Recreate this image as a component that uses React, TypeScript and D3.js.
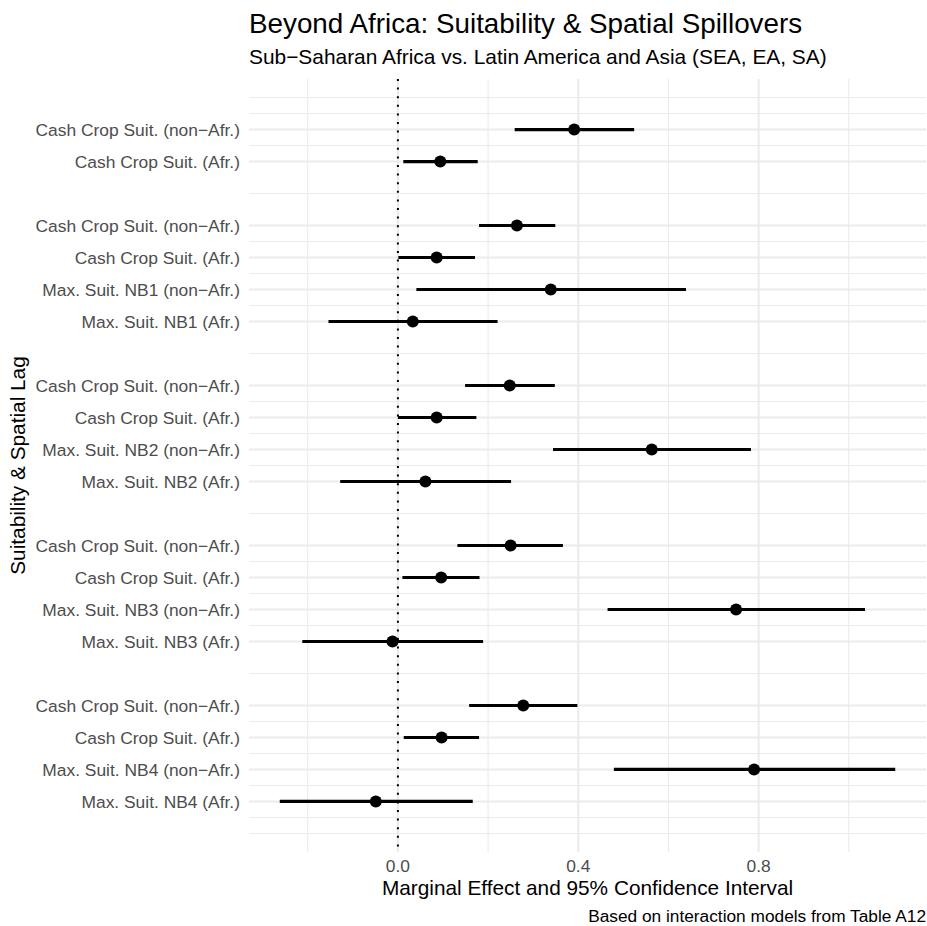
import React from "react";
import * as d3 from "d3";

const labels = [
  "Cash Crop Suit. (non\u2212Afr.)",
  "Cash Crop Suit. (Afr.)",
  "Cash Crop Suit. (non\u2212Afr.)",
  "Cash Crop Suit. (Afr.)",
  "Max. Suit. NB1 (non\u2212Afr.)",
  "Max. Suit. NB1 (Afr.)",
  "Cash Crop Suit. (non\u2212Afr.)",
  "Cash Crop Suit. (Afr.)",
  "Max. Suit. NB2 (non\u2212Afr.)",
  "Max. Suit. NB2 (Afr.)",
  "Cash Crop Suit. (non\u2212Afr.)",
  "Cash Crop Suit. (Afr.)",
  "Max. Suit. NB3 (non\u2212Afr.)",
  "Max. Suit. NB3 (Afr.)",
  "Cash Crop Suit. (non\u2212Afr.)",
  "Cash Crop Suit. (Afr.)",
  "Max. Suit. NB4 (non\u2212Afr.)",
  "Max. Suit. NB4 (Afr.)",
];
const groups = [0, 0, 1, 1, 1, 1, 2, 2, 2, 2, 3, 3, 3, 3, 4, 4, 4, 4];
const estimates = [0.391, 0.094, 0.264, 0.086, 0.339, 0.033, 0.248, 0.086, 0.563, 0.061, 0.25, 0.096, 0.75, -0.012, 0.278, 0.097, 0.79, -0.049];
const lower = [0.259, 0.012, 0.18, 0.001, 0.041, -0.154, 0.149, 0.0, 0.344, -0.128, 0.132, 0.01, 0.465, -0.212, 0.158, 0.013, 0.479, -0.262];
const upper = [0.524, 0.177, 0.349, 0.171, 0.639, 0.221, 0.348, 0.174, 0.783, 0.251, 0.366, 0.181, 1.036, 0.189, 0.398, 0.18, 1.103, 0.166];
const xMajorTicks = [0, 0.4, 0.8];
const xTickLabels = ["0.0", "0.4", "0.8"];

const title = "Beyond Africa: Suitability & Spatial Spillovers";
const subtitle = "Sub\u2212Saharan Africa vs. Latin America and Asia (SEA, EA, SA)";
const xTitle = "Marginal Effect and 95% Confidence Interval";
const yTitle = "Suitability & Spatial Lag";
const caption = "Based on interaction models from Table A12";

const W = 927;
const H = 926;
const panel = { left: 249, right: 926, top: 79, bottom: 852 };
const FONT = "'Liberation Sans', Arial, Helvetica, sans-serif";

export default function App() {
  const positions = labels.map((_, i) => i + groups[i]);
  const xMin = d3.min(lower)!;
  const xMax = d3.max(upper)!;
  const xPad = (xMax - xMin) * 0.05;
  const x = d3.scaleLinear().domain([xMin - xPad, xMax + xPad]).range([panel.left, panel.right]);
  const pMin = d3.min(positions)!;
  const pMax = d3.max(positions)!;
  const yPad = (pMax - pMin) * 0.0752;
  const y = d3.scaleLinear().domain([pMin - yPad, pMax + yPad]).range([panel.top, panel.bottom]);

  const xStep = xMajorTicks[1] - xMajorTicks[0];
  const xMinor: number[] = [];
  const xExt = [xMajorTicks[0] - xStep, ...xMajorTicks, xMajorTicks[xMajorTicks.length - 1] + xStep];
  for (let i = 0; i < xExt.length - 1; i++) xMinor.push((xExt[i] + xExt[i + 1]) / 2);
  const xMinorVis = xMinor.filter((v) => v >= x.domain()[0] && v <= x.domain()[1]);

  const yExt = [positions[0] - 1, ...positions, positions[positions.length - 1] + 1];
  const yMinor: number[] = [];
  for (let i = 0; i < yExt.length - 1; i++) yMinor.push((yExt[i] + yExt[i + 1]) / 2);
  yMinor.push(yExt[0], yExt[yExt.length - 1]);
  const yMinorVis = yMinor.filter((v) => v >= y.domain()[0] && v <= y.domain()[1]);

  const grid = "#EBEBEB";
  const textGrey = "#4D4D4D";

  return (
    <svg width={W} height={H} style={{ display: "block", position: "absolute", left: 0, top: 0 }} fontFamily={FONT}>
      <rect width={W} height={H} fill="#fff" />
      {xMinorVis.map((v, i) => (
        <line key={"xm" + i} x1={x(v)} x2={x(v)} y1={panel.top} y2={panel.bottom} stroke={grid} strokeWidth={1.1} />
      ))}
      {yMinorVis.map((v, i) => (
        <line key={"ym" + i} x1={panel.left} x2={panel.right} y1={y(v)} y2={y(v)} stroke={grid} strokeWidth={1.1} />
      ))}
      {xMajorTicks.map((v, i) => (
        <line key={"xM" + i} x1={x(v)} x2={x(v)} y1={panel.top} y2={panel.bottom} stroke={grid} strokeWidth={2.1} />
      ))}
      {positions.map((p, i) => (
        <line key={"yM" + i} x1={panel.left} x2={panel.right} y1={y(p)} y2={y(p)} stroke={grid} strokeWidth={2.1} />
      ))}
      <line x1={x(0)} x2={x(0)} y1={panel.top} y2={panel.bottom} stroke="#000" strokeWidth={2} strokeDasharray="2,6.6" />
      {positions.map((p, i) => (
        <g key={"d" + i}>
          <line x1={x(lower[i])} x2={x(upper[i])} y1={y(p)} y2={y(p)} stroke="#000" strokeWidth={3.2} />
          <circle cx={x(estimates[i])} cy={y(p)} r={6} fill="#000" />
        </g>
      ))}
      {positions.map((p, i) => (
        <text key={"yl" + i} x={240} y={y(p)} dy="0.35em" textAnchor="end" fontSize={17.4} fill={textGrey}>
          {labels[i]}
        </text>
      ))}
      {xMajorTicks.map((v, i) => (
        <text key={"xl" + i} x={x(v)} y={872} textAnchor="middle" fontSize={17.4} fill={textGrey}>
          {xTickLabels[i]}
        </text>
      ))}
      <text x={(panel.left + panel.right) / 2} y={895} textAnchor="middle" fontSize={20.8} fill="#000">
        {xTitle}
      </text>
      <text transform={`translate(25,${(panel.top + panel.bottom) / 2}) rotate(-90)`} textAnchor="middle" fontSize={20.8} fill="#000">
        {yTitle}
      </text>
      <text x={panel.left} y={33} fontSize={27.8} fill="#000">
        {title}
      </text>
      <text x={panel.left} y={64} fontSize={20.9} fill="#000">
        {subtitle}
      </text>
      <text x={panel.right} y={922} textAnchor="end" fontSize={17.3} fill="#000">
        {caption}
      </text>
    </svg>
  );
}
